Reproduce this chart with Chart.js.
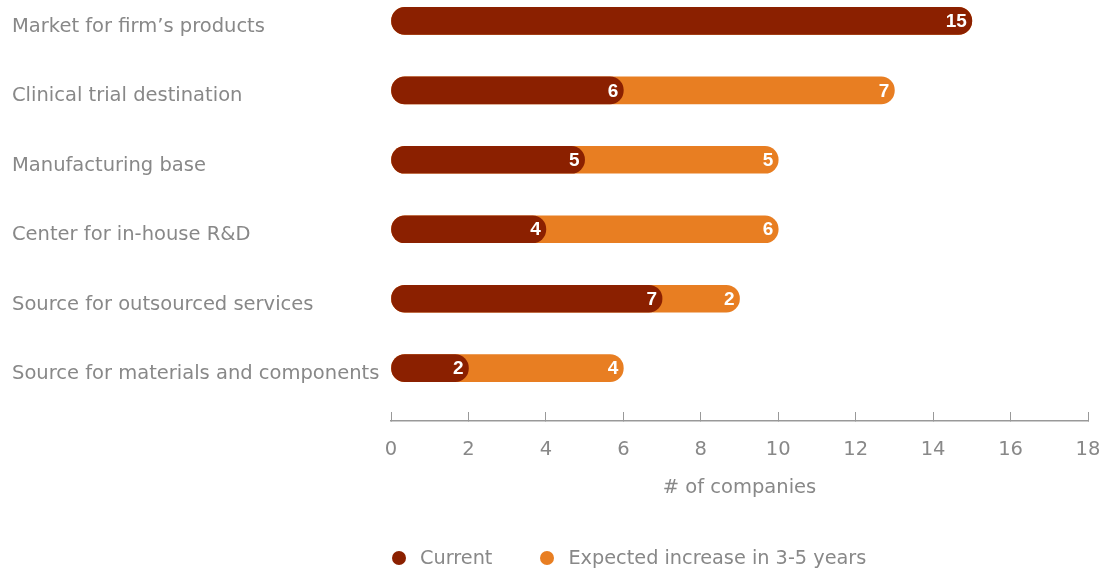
<!DOCTYPE html>
<html>
<head>
<meta charset="utf-8">
<script src="https://cdn.jsdelivr.net/npm/chart.js@4.4.1/dist/chart.umd.min.js"></script>
<style>
    body { margin: 0; background: #fff; }
    #wrap { position: relative; width: 1107px; height: 573px; }
    #legend {
        position: absolute; left: 392px; top: 546px;
        display: flex; align-items: center;
        font: 19.3px "DejaVu Sans", sans-serif; color: #888;
    }
    #legend .item { display: flex; align-items: center; margin-right: 48px; }
    #legend .dot { width: 14px; height: 14px; border-radius: 50%; margin-right: 14px; }
</style>
</head>
<body>
<div id="wrap">
    <canvas id="chart" width="1107" height="573"></canvas>
    <div id="legend"></div>
</div>
<script>
const categories = [
    "Market for firm\u2019s products",
    "Clinical trial destination",
    "Manufacturing base",
    "Center for in-house R&D",
    "Source for outsourced services",
    "Source for materials and components"
];
const current = [15, 6, 5, 4, 7, 2];
const expected = [0, 7, 5, 6, 2, 4];

const X_MAX = 18;
const X_STEP = 2;

const DARK = "#8b2000";
const ORANGE = "#e87e22";
const GREY = "#888888";

Chart.defaults.font.family = "'DejaVu Sans', sans-serif";
Chart.defaults.font.size = 19.5;
Chart.defaults.color = GREY;

// orange bar runs from 0 to the total, the dark one sits on top of it
const totals = current.map((c, i) => c + expected[i]);

const barLabels = {
    id: "barLabels",
    afterDatasetsDraw(chart) {
        const ctx = chart.ctx;
        ctx.save();
        ctx.fillStyle = "#fff";
        ctx.font = "bold 19px 'Liberation Sans', Arial, sans-serif";
        ctx.textAlign = "right";
        ctx.textBaseline = "middle";
        chart.getDatasetMeta(0).data.forEach((bar, i) => {
            ctx.fillText(current[i], bar.x - 5, bar.y + 1);
        });
        chart.getDatasetMeta(1).data.forEach((bar, i) => {
            if (expected[i] > 0) ctx.fillText(expected[i], bar.x - 5, bar.y + 1);
        });
        ctx.restore();
    }
};

// keep the layout fixed: no extra room for overhanging tick labels
function noPadding(scale) {
    scale.paddingTop = 0;
    scale.paddingBottom = 0;
    scale.paddingLeft = 0;
    scale.paddingRight = 0;
}

const chart = new Chart(document.getElementById("chart"), {
    type: "bar",
    data: {
        datasets: [
            {
                label: "Current",
                data: current.map((v, i) => ({ x: v, y: i })),
                backgroundColor: DARK
            },
            {
                label: "Expected increase in 3-5 years",
                data: totals.map((v, i) => ({ x: v, y: i })),
                backgroundColor: ORANGE
            }
        ]
    },
    options: {
        indexAxis: "y",
        responsive: false,
        animation: false,
        layout: { padding: { left: 12, right: 19, top: 0, bottom: 73 } },
        datasets: {
            bar: {
                grouped: false,
                barThickness: 27,
                borderRadius: 14,
                borderSkipped: false
            }
        },
        scales: {
            x: {
                min: 0,
                max: X_MAX,
                afterFit: (scale) => { scale.height = 79; noPadding(scale); },
                ticks: { stepSize: X_STEP, padding: 26 },
                grid: { drawOnChartArea: false, tickLength: -9, color: "#999" },
                border: { color: "#999", width: 1.5 },
                title: {
                    display: true,
                    text: "# of companies",
                    padding: { top: 0, bottom: 0 }
                }
            },
            y: {
                type: "linear",
                reverse: true,
                offset: false,
                min: -0.3,
                max: 5.76,
                afterBuildTicks: (scale) => {
                    scale.ticks = categories.map((c, i) => ({ value: i }));
                },
                afterFit: (scale) => { scale.width = 379; noPadding(scale); },
                ticks: {
                    callback: (v) => categories[v],
                    crossAlign: "far",
                    labelOffset: 6,
                    padding: 11
                },
                grid: { display: false },
                border: { display: false }
            }
        },
        plugins: {
            legend: { display: false },
            tooltip: { enabled: false }
        }
    },
    plugins: [barLabels]
});

// legend below the chart
const legend = document.getElementById("legend");
chart.data.datasets.forEach((ds) => {
    const item = document.createElement("div");
    item.className = "item";
    item.innerHTML = `<span class="dot" style="background:${ds.backgroundColor}"></span>${ds.label}`;
    legend.appendChild(item);
});
</script>
</body>
</html>
